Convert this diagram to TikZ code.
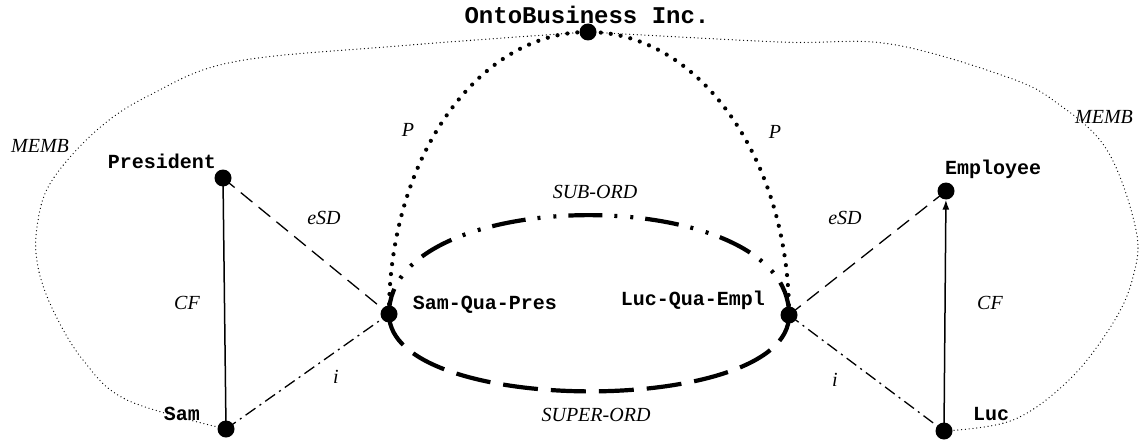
\documentclass[tikz,border=0pt]{standalone}
\usepackage{fontspec}
\setmainfont{Liberation Serif}
\newfontfamily\monob{Liberation Mono}
\usetikzlibrary{arrows.meta}
\begin{document}
\begin{tikzpicture}[x=1pt,y=-1pt,
  dotnode/.style={circle,fill,inner sep=0pt,minimum size=17pt},
  monotxt/.style={font=\monob\bfseries\fontsize{20}{22}\selectfont,inner sep=0pt},
  itxt/.style={font=\itshape\fontsize{20}{22}\selectfont,inner sep=0pt},
  membline/.style={line width=1.3pt,line cap=round,dash pattern=on 0pt off 3.8pt},
  partline/.style={line width=4.2pt,line cap=round,dash pattern=on 0pt off 10pt},
  esdline/.style={line width=1.3pt,dash pattern=on 15pt off 8pt},
  instline/.style={line width=1.3pt,dash pattern=on 12pt off 5pt on 2pt off 5pt},
  cfline/.style={line width=1.5pt},
  subline/.style={line width=4.2pt,dash pattern=on 34pt off 12pt on 3pt off 13pt on 3pt off 12pt},
  superline/.style={line width=4.2pt,dash pattern=on 35pt off 13pt}]
\useasboundingbox (0,0) rectangle (1139,444);

% nodes
\node[dotnode] (onto) at (588,32) {};
\node[dotnode] (pres) at (223,178) {};
\node[dotnode] (empl) at (946,191) {};
\node[dotnode] (sqp) at (389,314) {};
\node[dotnode] (lqe) at (789,315) {};
\node[dotnode] (sam) at (226,429) {};
\node[dotnode] (luc) at (944,431) {};

% names
\node[monotxt,font=\monob\bfseries\fontsize{24}{26}\selectfont] (ontot) at (587,15) {OntoBusiness Inc.};
\node[monotxt] (prest) at (162,161) {President};
\node[monotxt] (emplt) at (993,169) {Employee};
\node[monotxt] (sqpt) at (485,305) {Sam-Qua-Pres};
\node[monotxt] (lqet) at (693,300) {Luc-Qua-Empl};
\node[monotxt] (samt) at (182,414) {Sam};
\node[monotxt] (luct) at (991,414) {Luc};

% MEMB
\draw[membline] plot[smooth,tension=0.6] coordinates {(onto.center) (398,46) (233,62) (150,95) (97,130) (51,182) (37,227) (38,267) (53,310) (83,360) (127,400) (sam.center)};
\draw[membline] plot[smooth,tension=0.6] coordinates {(onto.center) (780,42) (890,44) (1007,77) (1057,103) (1107,150) (1136,230) (1133,277) (1113,323) (1070,379) (1013,420) (luc.center)};

% P
\draw[partline] (sqp.center) .. controls (389,158) and (478,32) .. (onto.center);
\draw[partline] (lqe.center) .. controls (789,159) and (699,32) .. (onto.center);

% ellipse
\draw[subline] (lqe.center) .. controls (790,182) and (389,182) .. (sqp.center);
\draw[superline] (sqp.center) .. controls (389,417) and (790,417) .. (lqe.center);

% eSD, i, CF
\draw[esdline] (pres.center) -- (sqp.center);
\draw[esdline] (lqe.center) -- (empl.center);
\draw[instline] (sam.center) -- (sqp.center);
\draw[instline] (lqe.center) -- (luc.center);
\draw[cfline] (pres.center) -- (sam.center);
\draw[cfline,-{Latex[length=10pt,width=7pt]}] (luc.center) -- (empl);

% labels
\node[itxt] (m1) at (40,146) {MEMB};
\node[itxt] (m2) at (1104,117) {MEMB};
\node[itxt] (p1) at (408,130) {P};
\node[itxt] (p2) at (775,132) {P};
\node[itxt] (so) at (595,192) {SUB-ORD};
\node[itxt] (sp) at (596,415) {SUPER-ORD};
\node[itxt] (e1) at (324,218) {eSD};
\node[itxt] (e2) at (845,218) {eSD};
\node[itxt] (c1) at (187,303) {CF};
\node[itxt] (c2) at (990,303) {CF};
\node[itxt] (i1) at (336,377) {i};
\node[itxt] (i2) at (835,380) {i};
\end{tikzpicture}
\end{document}
